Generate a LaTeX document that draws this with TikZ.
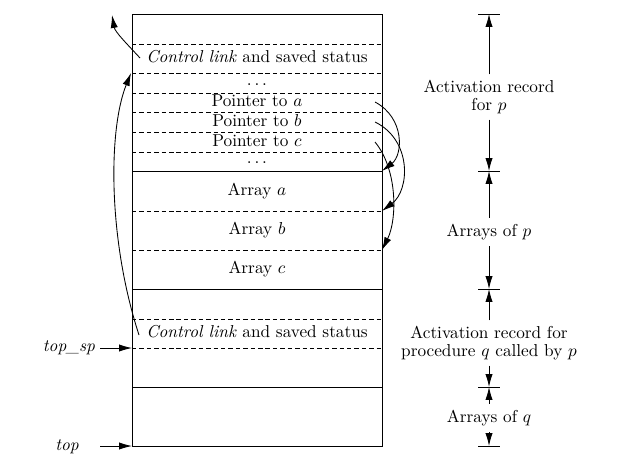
\documentclass[tikz,border=0pt]{standalone}
\usepackage{amsmath}
\usetikzlibrary{arrows.meta}
\tikzset{
	sep/.style={dash pattern=on 2.6pt off 1.7pt},
	cell/.style={text height=1.6ex,text depth=0.4ex,inner sep=0pt},
	ptr/.style={-{Latex[length=7.5pt,width=4.2pt]}},
}
\begin{document}
\begin{tikzpicture}[x=0.58pt,y=-0.58pt,line width=0.5pt]
	\useasboundingbox (0,0) rectangle (626,475);
	
	%STACK
	\draw (132,14) rectangle (382,446);
	\foreach \y in {171,289,387}
		\draw (132,\y)--(382,\y);
	\foreach \y in {44,73,93,112,132,152,211,250,319,348}
		\draw[sep] (132,\y)--(382,\y);
	
	%CELLS OF p
	\node[cell] (clp) at (257,58.5) {\textit{Control link} and saved status};
	\node[cell] (dotsa) at (257,81) {$\ldots$};
	\node[cell] (ptra) at (257,102.5) {Pointer to $a$};
	\node[cell] (ptrb) at (257,122) {Pointer to $b$};
	\node[cell] (ptrc) at (257,142) {Pointer to $c$};
	\node[cell] (dotsb) at (257,159.5) {$\ldots$};
	\node[cell] (arra) at (257,191) {Array $a$};
	\node[cell] (arrb) at (257,230.5) {Array $b$};
	\node[cell] (arrc) at (257,269.5) {Array $c$};
	
	%CELLS OF q
	\node[cell] (clq) at (257,333.5) {\textit{Control link} and saved status};
	
	%CONTROL LINKS
	\coordinate (clpout) at (140,58);
	\coordinate (prev) at (112,15);
	\coordinate (clqout) at (139,335);
	\coordinate (clpin) at (131,73);
	\draw[ptr] (clpout) .. controls (128,45) and (115,32) .. (prev);
	\draw[ptr] (clqout) .. controls (108,240) and (108,130) .. (clpin);
	
	%ARRAY POINTERS
	\coordinate (pa) at (375,102);
	\coordinate (pb) at (375,122);
	\coordinate (pc) at (375,142);
	\coordinate (sa) at (382,171);
	\coordinate (sb) at (382,211);
	\coordinate (sc) at (382,250);
	\draw[ptr] (pa) .. controls (405,118) and (403,155) .. (sa);
	\draw[ptr] (pb) .. controls (412,140) and (410,190) .. (sb);
	\draw[ptr] (pc) .. controls (398,170) and (397,220) .. (sc);
	
	%STACK POINTERS
	\node (topsp) at (69,348) {\textit{top\_sp}};
	\node (top) at (67,447) {\textit{top}};
	\draw[ptr] (100,348)--(132,348);
	\draw[ptr] (100,446)--(132,446);
	
	%EXTENTS
	\foreach \y/\n in {14/ta,171/tb,289/tc,387/td,446/te}{
		\draw (478,\y)--(500,\y);
		\coordinate (\n) at (489,\y);
	}
	\node[align=center] (recp) at (489,97) {Activation record \\[-2pt] for $p$};
	\node (arrsp) at (489,232) {Arrays of $p$};
	\node[align=center] (recq) at (489,343) {Activation record for \\[-2pt] procedure $q$ called by $p$};
	\node (arrsq) at (489,418) {Arrays of $q$};
	\draw[ptr] (recp)--(ta);	\draw[ptr] (recp)--(tb);
	\draw[ptr] (arrsp)--(tb);	\draw[ptr] (arrsp)--(tc);
	\draw[ptr] (recq)--(tc);	\draw[ptr] (recq)--(td);
	\draw[ptr] (arrsq)--(td);	\draw[ptr] (arrsq)--(te);
\end{tikzpicture}
\end{document}
